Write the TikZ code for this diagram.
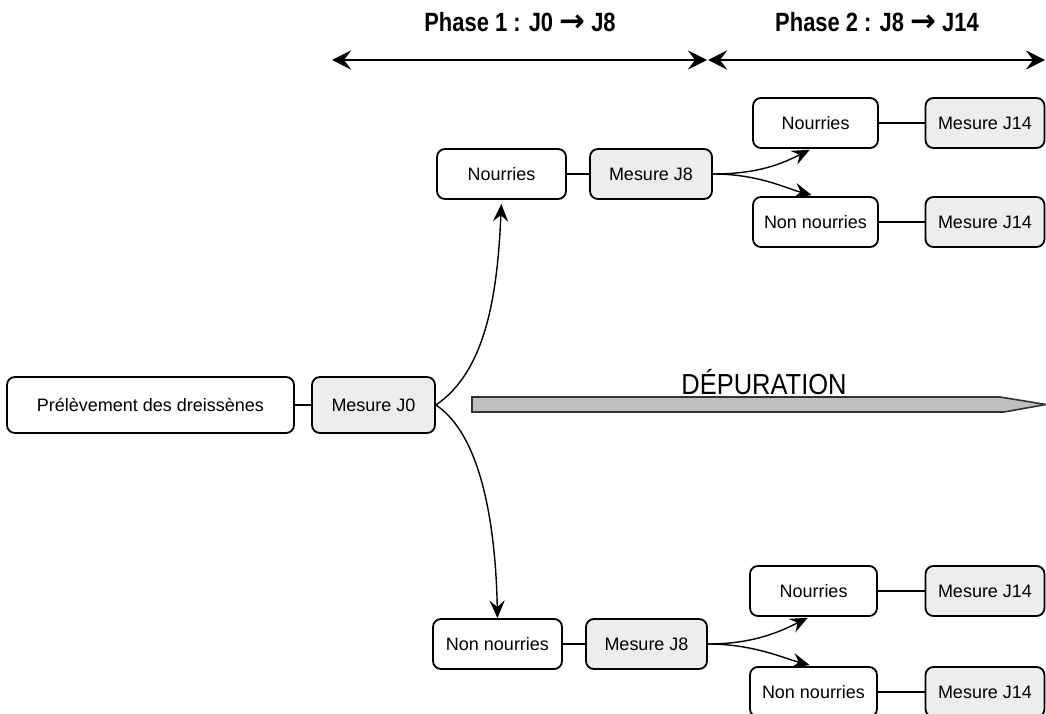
\documentclass[tikz,border=0pt]{standalone}
\usepackage{fontspec}
\setmainfont{Liberation Sans}
\newfontfamily\phasefont[FakeStretch=0.83]{Liberation Sans}
\newfontfamily\arrowfont{DejaVu Sans}
\newfontfamily\depfont[FakeStretch=0.88]{Liberation Sans}
\usetikzlibrary{arrows.meta,calc}

\tikzset{
  box/.style={draw, rounded corners=2mm, line width=0.45mm, minimum height=12.5mm,
    inner sep=0pt, font=\fontsize{12.8}{15}\selectfont},
  mesure/.style={box, fill=black!7},
  link/.style={line width=0.35mm},
  fork/.style={line width=0.35mm, -{Stealth[length=4.4mm,width=3.8mm,inset=1.6mm]}},
  span/.style={line width=0.35mm,
    {Stealth[length=4.8mm,width=4.8mm,inset=1.8mm]}-{Stealth[length=4.8mm,width=4.8mm,inset=1.8mm]}},
  phase/.style={font=\phasefont\bfseries\fontsize{18.8}{22}\selectfont}
}
\newcommand{\phasearrow}{{\arrowfont\bfseries\fontsize{22}{22}\selectfont →}}

\begin{document}
\begin{tikzpicture}[x=0.25mm, y=-0.25mm]

\useasboundingbox (0,0) rectangle (1046,714);

% Phases
\coordinate (p1l) at (332,60);
\coordinate (p1r) at (707,60);
\coordinate (p2l) at (708,60);
\coordinate (p2r) at (1045,60);
\draw[span] (p1l) -- (p1r);
\draw[span] (p2l) -- (p2r);
\node[phase] (ph1) at (520,22) {Phase 1 : J0 \phasearrow{} J8};
\node[phase] (ph2) at (877,22) {Phase 2 : J8 \phasearrow{} J14};

% Start
\node[box, minimum width=71.75mm, minimum height=14mm] (prel) at (150.5,405) {Prélèvement des dreissènes};
\node[mesure, minimum width=30.75mm, minimum height=14mm] (mj0) at (373.5,405) {Mesure J0};
\draw[link] (prel) -- (mj0);

% Depuration
\draw[line width=0.4mm, draw=black!80, fill=black!25]
  (472,397) -- (1000,397) -- (1046,404.5) -- (1004,412) -- (472,412) -- cycle;
\node[anchor=base, inner sep=0pt, font=\depfont\fontsize{20.6}{24}\selectfont] (dep) at (764,394) {DÉPURATION};

% Phase 1, fed
\node[box, minimum width=32.25mm] (nour1) at (501.5,174) {Nourries};
\node[mesure, minimum width=30.5mm] (mj8a) at (651,174) {Mesure J8};
\draw[link] (nour1) -- (mj8a);
\draw[fork, shorten >=1mm] (mj0.east) .. controls +(50,-34) and +(-4,95) .. (nour1.south);

% Phase 1, not fed
\node[box, minimum width=32.25mm] (non1) at (497.5,644) {Non nourries};
\node[mesure, minimum width=30.25mm] (mj8b) at (646.5,644) {Mesure J8};
\draw[link] (non1) -- (mj8b);
\draw[fork] (mj0.east) .. controls +(45,30) and +(-2,-95) .. (non1.north);

% Phase 2, from fed
\node[box, minimum width=31.25mm] (nour2) at (815.5,123) {Nourries};
\node[mesure, minimum width=29.75mm] (mj14a) at (985,123) {Mesure J14};
\node[box, minimum width=31.25mm] (non2) at (815.5,222) {Non nourries};
\node[mesure, minimum width=29.75mm] (mj14b) at (985,222) {Mesure J14};
\draw[link] (nour2) -- (mj14a);
\draw[link] (non2) -- (mj14b);
\draw[fork, shorten >=0.5mm] (mj8a.east) .. controls +(45,0) and +(-30,15) .. ([xshift=-1mm]nour2.south);
\draw[fork, shorten >=1mm] (mj8a.east) .. controls +(45,0) and +(-30,-8) .. (non2.north);

% Phase 2, from not fed
\node[box, minimum width=31.75mm] (nour3) at (813.5,591) {Nourries};
\node[mesure, minimum width=29.75mm] (mj14c) at (985,591) {Mesure J14};
\node[box, minimum width=31.75mm] (non3) at (813.5,692) {Non nourries};
\node[mesure, minimum width=29.75mm] (mj14d) at (985,692) {Mesure J14};
\draw[link] (nour3) -- (mj14c);
\draw[link] (non3) -- (mj14d);
\draw[fork, shorten >=0.5mm] (mj8b.east) .. controls +(45,0) and +(-30,15) .. ([xshift=-1mm]nour3.south);
\draw[fork, shorten >=1mm] (mj8b.east) .. controls +(45,0) and +(-30,-8) .. (non3.north);

\end{tikzpicture}
\end{document}
